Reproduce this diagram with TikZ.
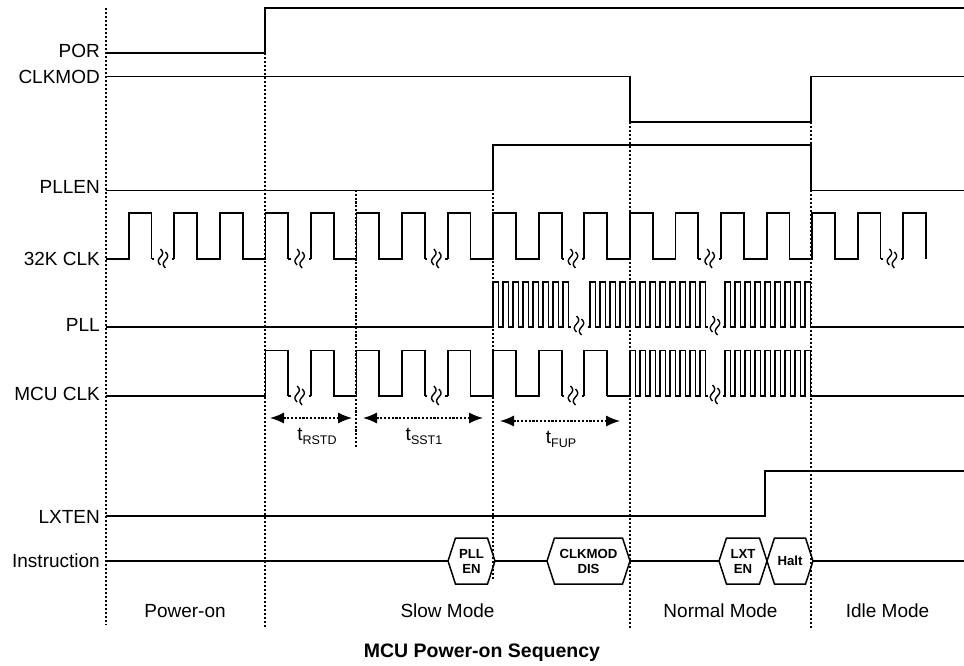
\documentclass[tikz,border=0pt]{standalone}
\usepackage{fontspec}
\setmainfont{Liberation Sans}
\usetikzlibrary{arrows.meta,shapes.symbols}

% t with a lowered index
\newcommand{\tlabel}[1]{t\raisebox{-4pt}{\fontsize{12.5}{12.5}\selectfont #1}}
% slow clock run: start x, odd half periods, low y, high y
\newcommand{\slowrun}[4]{\draw[wave_style] ({#1},#3) \foreach \k in {#2} { -- ({tx(\k)},#3) -- ({tx(\k)},#4) -- ({tx(\k+1)},#4) -- ({tx(\k+1)},#3) };}
% fast clock run: start x, first rise, pulses, end x, low y, high y
\newcommand{\fastrun}[6]{\draw[wave_style] ({#1},#5) \foreach \k in {1,...,#3} { -- ({#2+(\k-1)*10},#5) -- ({#2+(\k-1)*10},#6) -- ({#2+(\k-1)*10+5.5},#6) -- ({#2+(\k-1)*10+5.5},#5) } -- ({#4},#5);}
% gap in a clock: left x, right x, y
\newcommand{\brkat}[3]{\draw[wave_style] ({#1},#3) -- ++(2.5,0) ({#2},#3) -- ++(-2.5,0);
   \pic at ({(#1+#2)/2},#3) {brk_mark};}

\begin{document}
\begin{tikzpicture}[x=1pt, y=-1pt, font=\fontsize{19}{21}\selectfont,
   declare function={tx(\n)=106+22.78*\n;},
   wave_style/.style={line width=1.8pt, line join=miter},
   mark_style/.style={dash pattern=on 2.2pt off 1.8pt, line width=1.6pt},
   thin_mark_style/.style={dash pattern=on 2.2pt off 1.6pt, line width=1.3pt},
   label_style/.style={anchor=base east, inner sep=0pt},
   mode_style/.style={anchor=base, inner sep=0pt},
   time_style/.style={{Latex[length=14pt,width=11pt]}-{Latex[length=14pt,width=11pt]}, thin_mark_style},
   instr_style/.style={draw, line width=1.5pt, signal, signal to=west and east, signal pointer angle=144,
      minimum height=46pt, inner xsep=0pt, inner ysep=0pt, outer sep=0pt, align=center,
      font=\fontsize{13.2}{15}\selectfont\bfseries},
   brk_mark/.pic={
      \draw[line width=1.4pt] plot[domain=0:1, samples=17, smooth] ({-2.5+2.2*sin(\x*360)}, {-10+16*\x});
      \draw[line width=1.4pt] plot[domain=0:1, samples=17, smooth] ({2.5+2.2*sin(\x*360)}, {-7+16*\x});
   }]

    \useasboundingbox (0,0) rectangle (964,665);

    % phase marks
    \draw[mark_style] (106,8) -- (106,625);
    \draw[mark_style] (265,53) -- (265,628);
    \draw[thin_mark_style] (356,190) -- (356,448);
    \draw[mark_style] (493,145) -- (493,580);
    \draw[mark_style] (630,122) -- (630,628);
    \draw[mark_style] (811,122) -- (811,628);

    % signal names
    \node[label_style] (por_lbl) at (100,57) {POR};
    \node[label_style] (clkmod_lbl) at (100,83) {CLKMOD};
    \node[label_style] (pllen_lbl) at (100,193.5) {PLLEN};
    \node[label_style] (clk32_lbl) at (100,265) {32K CLK};
    \node[label_style] (pll_lbl) at (100,331) {PLL};
    \node[label_style] (mcu_lbl) at (100,400) {MCU CLK};
    \node[label_style] (lxten_lbl) at (100,523) {LXTEN};
    \node[label_style] (instr_lbl) at (100,567) {Instruction};

    % levels
    \draw[wave_style] (106,53) -- (265,53) -- (265,8) -- (964,8);
    \draw[wave_style] (106,76.5) -- (630,76.5) -- (630,122) -- (811,122) -- (811,76.5) -- (964,76.5);
    \draw[wave_style] (106,190.5) -- (493,190.5) -- (493,145) -- (811,145) -- (811,190.5) -- (964,190.5);
    \draw[wave_style] (106,516) -- (765,516) -- (765,471) -- (964,471);

    % 32K CLK
    \slowrun{106}{1}{259}{213}
    \slowrun{tx(3)}{3,5,7}{259}{213}
    \slowrun{tx(9)}{9,11,13}{259}{213}
    \slowrun{tx(15)}{15,17,19}{259}{213}
    \slowrun{tx(21)}{21,23,25}{259}{213}
    \slowrun{tx(27)}{27,29,31,33}{259}{213}
    \slowrun{tx(35)}{35}{259}{213}
    \foreach \n in {2,8,14,20,26,34} {\brkat{tx(\n)}{tx(\n+1)}{259}}

    % PLL
    \fastrun{106}{493}{8}{570.5}{327}{282}
    \fastrun{587.5}{590}{12}{707.5}{327}{282}
    \fastrun{722.5}{725}{9}{964}{327}{282}
    \pic at (579,326) {brk_mark};
    \pic at (715,326) {brk_mark};

    % MCU CLK
    \slowrun{106}{7}{396}{350.5}
    \slowrun{tx(9)}{9,11,13}{396}{350.5}
    \slowrun{tx(15)}{15,17,19}{396}{350.5}
    \slowrun{tx(21)}{21}{396}{350.5}
    \foreach \n in {8,14,20} {\brkat{tx(\n)}{tx(\n+1)}{396}}
    \fastrun{tx(22)}{630}{8}{707.5}{396}{350.5}
    \fastrun{722.5}{725}{9}{964}{396}{350.5}
    \pic at (715,395) {brk_mark};

    % timings
    \coordinate (rstd_a) at (270,418);
    \coordinate (rstd_b) at (352,418);
    \coordinate (sst_a) at (363,418);
    \coordinate (sst_b) at (483,418);
    \coordinate (fup_a) at (500,421);
    \coordinate (fup_b) at (620,421);
    \draw[time_style] (rstd_a) -- (rstd_b);
    \draw[time_style] (sst_a) -- (sst_b);
    \draw[time_style] (fup_a) -- (fup_b);
    \node[mode_style] (rstd_lbl) at (317,440) {\tlabel{RSTD}};
    \node[mode_style] (sst_lbl) at (424,440) {\tlabel{SST1}};
    \node[mode_style] (fup_lbl) at (561,443) {\tlabel{FUP}};

    % instructions
    \node[instr_style, minimum width=47pt] (pll_en) at (471.5,561) {PLL\\EN};
    \node[instr_style, minimum width=83pt] (clk_dis) at (588.5,561) {CLKMOD\\DIS};
    \node[instr_style, minimum width=48pt] (lxt_en) at (743,561) {LXT\\EN};
    \node[instr_style, minimum width=46pt] (halt) at (790,561) {Halt};
    \coordinate (instr_a) at (106,561);
    \coordinate (instr_b) at (964,561);
    \draw[wave_style] (instr_a) -- (pll_en.west);
    \draw[wave_style] (pll_en.east) -- (clk_dis.west);
    \draw[wave_style] (clk_dis.east) -- (lxt_en.west);
    \draw[wave_style] (halt.east) -- (instr_b);

    % modes
    \node[mode_style] (pwr_lbl) at (185,617) {Power-on};
    \node[mode_style] (slow_lbl) at (447.5,617) {Slow Mode};
    \node[mode_style] (normal_lbl) at (720.5,617) {Normal Mode};
    \node[mode_style] (idle_lbl) at (887.5,617) {Idle Mode};
    \node[mode_style, font=\fontsize{19.5}{21}\selectfont\bfseries] (title) at (482,657) {MCU Power-on Sequency};
\end{tikzpicture}
\end{document}
